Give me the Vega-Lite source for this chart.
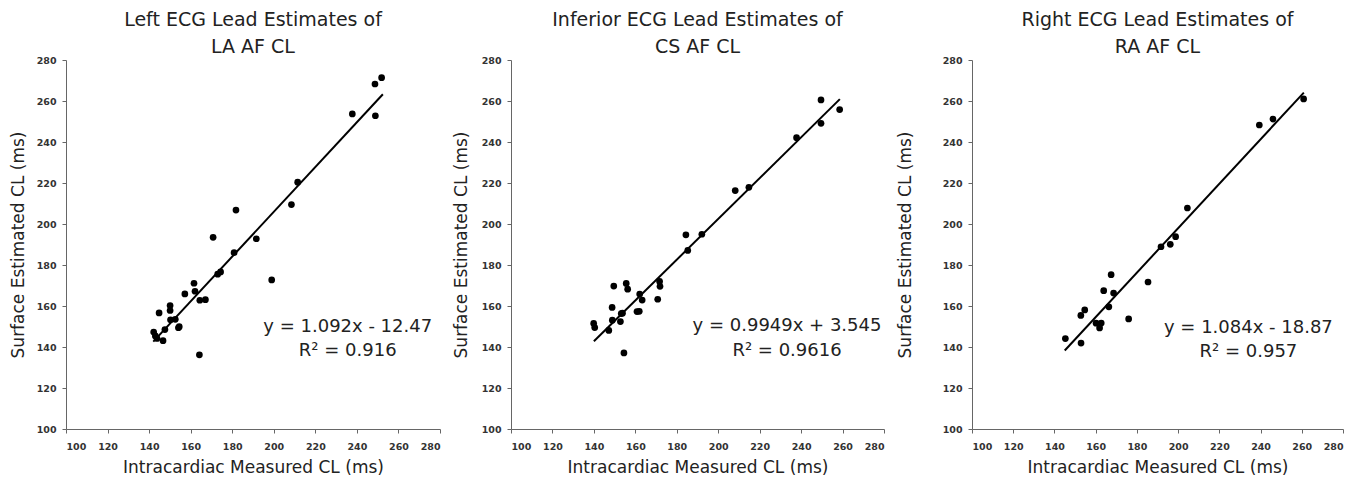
{
  "$schema": "https://vega.github.io/schema/vega-lite/v6.json",
  "background": "white",
  "padding": {"left": 9, "top": 11, "right": 5, "bottom": 5},
  "spacing": 11,
  "config": {
    "font": "DejaVu Sans",
    "view": {"stroke": null},
    "axis": {
      "grid": false,
      "domainColor": "#666666",
      "tickColor": "#666666",
      "tickSize": 4,
      "labelFont": "DejaVu Sans",
      "labelFontSize": 9.5,
      "labelFontWeight": "bold",
      "labelColor": "#333333",
      "titleFont": "DejaVu Sans",
      "titleFontSize": 17,
      "titleFontWeight": "normal",
      "titleColor": "#222222"
    },
    "axisX": {"labelPadding": 8, "titlePadding": 9},
    "axisY": {"labelPadding": 6},
    "title": {"font": "DejaVu Sans", "fontSize": 19, "fontWeight": "normal", "color": "#222222", "lineHeight": 27, "offset": -2, "anchor": "middle"}
  },
  "hconcat": [
    {
      "width": 374,
      "height": 369,
      "title": {"text": ["Left ECG Lead Estimates of", "LA AF CL"]},
      "layer": [
        {
          "data": {"values": [
            {"x": 142.2, "y": 147.3}, {"x": 143.0, "y": 145.4}, {"x": 143.8, "y": 144.2}, {"x": 144.8, "y": 156.6},
            {"x": 146.7, "y": 143.1}, {"x": 147.6, "y": 148.5}, {"x": 150.1, "y": 160.2}, {"x": 150.1, "y": 157.8},
            {"x": 150.3, "y": 153.3}, {"x": 152.6, "y": 153.5}, {"x": 154.1, "y": 149.4}, {"x": 154.5, "y": 149.9},
            {"x": 157.2, "y": 165.9}, {"x": 161.6, "y": 171.1}, {"x": 162.1, "y": 167.2}, {"x": 164.2, "y": 136.2},
            {"x": 164.4, "y": 162.8}, {"x": 167.1, "y": 163.1}, {"x": 170.8, "y": 193.5}, {"x": 173.0, "y": 175.5},
            {"x": 174.4, "y": 176.6}, {"x": 180.9, "y": 186.0}, {"x": 181.8, "y": 206.8}, {"x": 191.6, "y": 192.8},
            {"x": 199.0, "y": 172.7}, {"x": 208.5, "y": 209.5}, {"x": 211.5, "y": 220.4}, {"x": 237.8, "y": 253.7},
            {"x": 248.7, "y": 268.3}, {"x": 248.9, "y": 252.8}, {"x": 251.9, "y": 271.4}
          ]},
          "mark": {"type": "circle", "color": "black", "opacity": 1, "size": 45},
          "encoding": {
            "x": {"field": "x", "type": "quantitative", "scale": {"domain": [100, 280], "nice": false}, "axis": {"values": [100,120,140,160,180,200,220,240,260,280], "title": "Intracardiac Measured CL (ms)"}},
            "y": {"field": "y", "type": "quantitative", "scale": {"domain": [100, 280], "nice": false}, "axis": {"values": [100,120,140,160,180,200,220,240,260,280], "title": "Surface Estimated CL (ms)", "titlePadding": 9}}
          }
        },
        {
          "data": {"values": [{"x": 142, "y": 142.6}, {"x": 252.5, "y": 263.3}]},
          "mark": {"type": "line", "color": "black", "strokeWidth": 2},
          "encoding": {"x": {"field": "x", "type": "quantitative"}, "y": {"field": "y", "type": "quantitative"}}
        },
        {
          "data": {"values": [{"x": 235.6, "y": 149.6, "label": "y = 1.092x - 12.47"}, {"x": 235.6, "y": 138.2, "label": "R² = 0.916"}]},
          "mark": {"type": "text", "fontSize": 18, "color": "#222222", "align": "center", "baseline": "middle"},
          "encoding": {"x": {"field": "x", "type": "quantitative"}, "y": {"field": "y", "type": "quantitative"}, "text": {"field": "label"}}
        }
      ]
    },
    {
      "width": 373,
      "height": 369,
      "title": {"text": ["Inferior ECG Lead Estimates of", "CS AF CL"]},
      "layer": [
        {
          "data": {"values": [
            {"x": 139.9, "y": 151.5}, {"x": 140.4, "y": 149.5}, {"x": 147.2, "y": 148.1}, {"x": 148.8, "y": 159.3},
            {"x": 148.9, "y": 153.1}, {"x": 149.6, "y": 169.7}, {"x": 152.8, "y": 152.4}, {"x": 153.2, "y": 156.3},
            {"x": 153.8, "y": 156.5}, {"x": 154.5, "y": 137.1}, {"x": 155.6, "y": 171.0}, {"x": 156.3, "y": 168.2},
            {"x": 160.8, "y": 157.3}, {"x": 161.9, "y": 157.4}, {"x": 162.1, "y": 165.8}, {"x": 163.3, "y": 162.9},
            {"x": 170.8, "y": 163.3}, {"x": 171.7, "y": 172.0}, {"x": 171.9, "y": 169.6}, {"x": 184.4, "y": 194.7},
            {"x": 185.3, "y": 187.1}, {"x": 192.1, "y": 195.0}, {"x": 208.2, "y": 216.3}, {"x": 214.8, "y": 217.9},
            {"x": 237.8, "y": 242.1}, {"x": 249.6, "y": 260.5}, {"x": 249.6, "y": 249.1}, {"x": 258.6, "y": 255.8}
          ]},
          "mark": {"type": "circle", "color": "black", "opacity": 1, "size": 45},
          "encoding": {
            "x": {"field": "x", "type": "quantitative", "scale": {"domain": [100, 280], "nice": false}, "axis": {"values": [100,120,140,160,180,200,220,240,260,280], "title": "Intracardiac Measured CL (ms)"}},
            "y": {"field": "y", "type": "quantitative", "scale": {"domain": [100, 280], "nice": false}, "axis": {"values": [100,120,140,160,180,200,220,240,260,280], "title": "Surface Estimated CL (ms)", "titlePadding": 10.5}}
          }
        },
        {
          "data": {"values": [{"x": 140, "y": 142.8}, {"x": 258.7, "y": 260.9}]},
          "mark": {"type": "line", "color": "black", "strokeWidth": 2},
          "encoding": {"x": {"field": "x", "type": "quantitative"}, "y": {"field": "y", "type": "quantitative"}}
        },
        {
          "data": {"values": [{"x": 233.2, "y": 150.3, "label": "y = 0.9949x + 3.545"}, {"x": 233.2, "y": 138.2, "label": "R² = 0.9616"}]},
          "mark": {"type": "text", "fontSize": 18, "color": "#222222", "align": "center", "baseline": "middle"},
          "encoding": {"x": {"field": "x", "type": "quantitative"}, "y": {"field": "y", "type": "quantitative"}, "text": {"field": "label"}}
        }
      ]
    },
    {
      "width": 371,
      "height": 369,
      "title": {"text": ["Right ECG Lead Estimates of", "RA AF CL"]},
      "layer": [
        {
          "data": {"values": [
            {"x": 145.3, "y": 144.1}, {"x": 152.8, "y": 155.4}, {"x": 152.9, "y": 141.9}, {"x": 154.7, "y": 158.1},
            {"x": 160.2, "y": 151.6}, {"x": 161.9, "y": 149.3}, {"x": 162.7, "y": 151.7}, {"x": 163.9, "y": 167.5},
            {"x": 166.4, "y": 159.6}, {"x": 167.5, "y": 175.3}, {"x": 168.7, "y": 166.3}, {"x": 176.0, "y": 153.7},
            {"x": 185.4, "y": 171.7}, {"x": 191.7, "y": 188.9}, {"x": 196.2, "y": 190.1}, {"x": 198.8, "y": 193.8},
            {"x": 204.5, "y": 207.8}, {"x": 239.4, "y": 248.3}, {"x": 246.0, "y": 251.2}, {"x": 260.9, "y": 261.0}
          ]},
          "mark": {"type": "circle", "color": "black", "opacity": 1, "size": 45},
          "encoding": {
            "x": {"field": "x", "type": "quantitative", "scale": {"domain": [100, 280], "nice": false}, "axis": {"values": [100,120,140,160,180,200,220,240,260,280], "title": "Intracardiac Measured CL (ms)"}},
            "y": {"field": "y", "type": "quantitative", "scale": {"domain": [100, 280], "nice": false}, "axis": {"values": [100,120,140,160,180,200,220,240,260,280], "title": "Surface Estimated CL (ms)", "titlePadding": 27.5}}
          }
        },
        {
          "data": {"values": [{"x": 145, "y": 138.3}, {"x": 261, "y": 264.1}]},
          "mark": {"type": "line", "color": "black", "strokeWidth": 2},
          "encoding": {"x": {"field": "x", "type": "quantitative"}, "y": {"field": "y", "type": "quantitative"}}
        },
        {
          "data": {"values": [{"x": 234.1, "y": 149.4, "label": "y = 1.084x - 18.87"}, {"x": 234.1, "y": 137.7, "label": "R² = 0.957"}]},
          "mark": {"type": "text", "fontSize": 18, "color": "#222222", "align": "center", "baseline": "middle"},
          "encoding": {"x": {"field": "x", "type": "quantitative"}, "y": {"field": "y", "type": "quantitative"}, "text": {"field": "label"}}
        }
      ]
    }
  ]
}
